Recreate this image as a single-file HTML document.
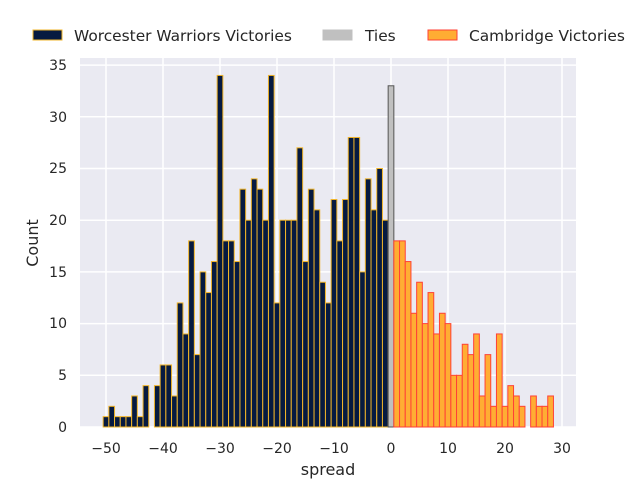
<!DOCTYPE html>
<html><head><meta charset="utf-8"><style>
body{margin:0;background:#fff;}
svg text{font-family:"DejaVu Sans","Liberation Sans",sans-serif;fill:#262626;}
</style></head><body>
<svg id="s" width="640" height="480" xmlns="http://www.w3.org/2000/svg">
<rect x="0" y="0" width="640" height="480" fill="#fff"/>
<rect x="80" y="58" width="496" height="369" fill="#eaeaf2"/>
<g id="grid" stroke="#fff" stroke-width="1.5"></g>
<g id="bars"></g>
<g font-size="14" text-anchor="middle">
<text x="106" y="453">−50</text><text x="163" y="453">−40</text><text x="220" y="453">−30</text>
<text x="277" y="453">−20</text><text x="334" y="453">−10</text><text x="391" y="453">0</text>
<text x="448" y="453">10</text><text x="505" y="453">20</text><text x="562" y="453">30</text>
</g>
<g font-size="14" text-anchor="end">
<text x="67" y="432">0</text><text x="67" y="380">5</text><text x="67" y="328">10</text>
<text x="67" y="277">15</text><text x="67" y="225">20</text><text x="67" y="173">25</text>
<text x="67" y="122">30</text><text x="67" y="70">35</text>
</g>
<text x="328" y="475" font-size="16" text-anchor="middle">spread</text>
<text x="38" y="243" font-size="16" text-anchor="middle" transform="rotate(-90 38 243)">Count</text>
<rect x="33" y="30" width="29" height="10" fill="#061a40" stroke="#f0b429"/>
<text x="74" y="41" font-size="15.4">Worcester Warriors Victories</text>
<rect x="323" y="30" width="29" height="10" fill="#c0c0c0" stroke="#c0c0c0"/>
<text x="365" y="41" font-size="15.4">Ties</text>
<rect x="428" y="30" width="29" height="10" fill="#ffad33" stroke="#ff4136"/>
<text x="469" y="41" font-size="15.4">Cambridge Victories</text>
</svg>
<script>
var ns="http://www.w3.org/2000/svg";
function X(v){return 391+v*5.7;}
function Y(c){return 427-c*10.34;}
var g=document.getElementById("grid");
for(var v=-50;v<=30;v+=10){var l=document.createElementNS(ns,"line");l.setAttribute("x1",X(v));l.setAttribute("x2",X(v));l.setAttribute("y1",58);l.setAttribute("y2",427);g.appendChild(l);}
for(var c=0;c<=35;c+=5){var l=document.createElementNS(ns,"line");l.setAttribute("x1",80);l.setAttribute("x2",576);l.setAttribute("y1",Y(c));l.setAttribute("y2",Y(c));g.appendChild(l);}
var neg=[1,2,1,1,1,3,1,4,0,4,6,6,3,12,9,18,7,15,13,16,34,18,18,16,23,20,24,23,20,34,12,20,20,20,27,16,23,21,14,12,22,18,22,28,28,15,24,21,25,20];
var pos=[18,18,16,11,14,10,13,9,11,10,5,5,8,7,9,3,7,2,9,2,4,3,2,0,3,2,2,3];
var b=document.getElementById("bars");
function bar(v,c,f,s){if(!c)return;var r=document.createElementNS(ns,"rect");r.setAttribute("x",X(v-0.5));r.setAttribute("width",5.7);r.setAttribute("y",Y(c));r.setAttribute("height",c*10.34);r.setAttribute("fill",f);r.setAttribute("stroke",s);r.setAttribute("stroke-width",1);b.appendChild(r);}
for(var i=0;i<neg.length;i++)bar(-50+i,neg[i],"#061a40","#f0b429");
bar(0,33,"#c0c0c0","#555");
for(var i=0;i<pos.length;i++)bar(1+i,pos[i],"#ffad33","#ff4136");
</script>
</body></html>
